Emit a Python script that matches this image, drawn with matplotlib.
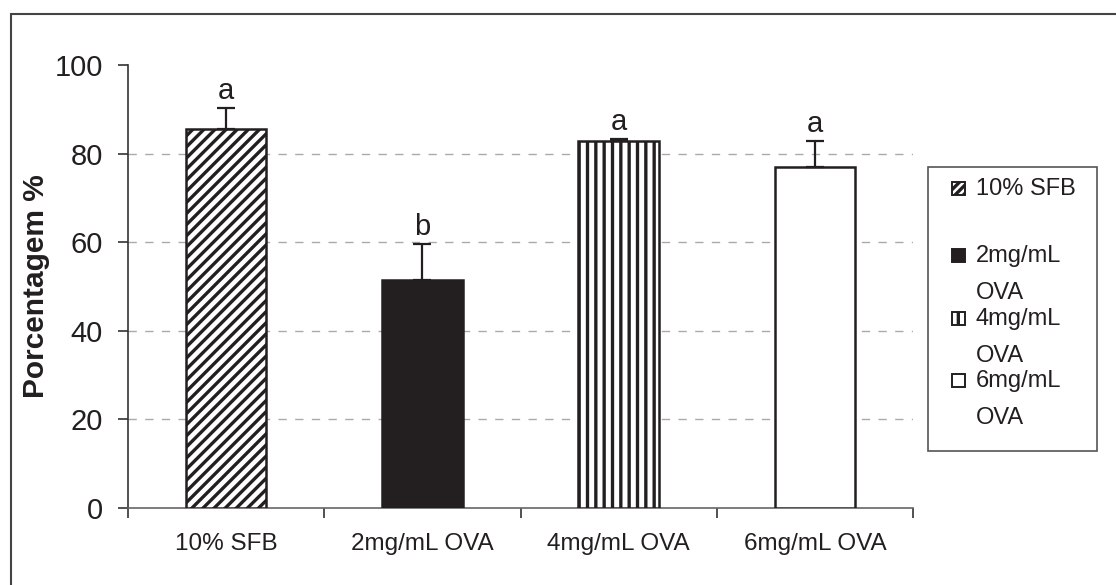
import matplotlib
matplotlib.use('Agg')
import matplotlib.pyplot as plt
from matplotlib.patches import Rectangle

plt.rcParams['font.family'] = ['Liberation Sans', 'DejaVu Sans']
plt.rcParams['hatch.linewidth'] = 2.4

categories = ['10% SFB', '2mg/mL OVA', '4mg/mL OVA', '6mg/mL OVA']
legend_labels = ['10% SFB', '2mg/mL\nOVA', '4mg/mL\nOVA', '6mg/mL\nOVA']
values = [85.5, 51.4, 82.8, 77.0]
errors = [4.8, 8.3, 0.5, 5.8]
letters = ['a', 'b', 'a', 'a']
yticks = [0, 20, 40, 60, 80, 100]

dark = '#231f20'
fills = ['white', dark, 'white', 'white']
hatches = ['///', '', '||', '']
legend_hatches = ['////', None, '|', None]

W, H = 1116, 585
fig = plt.figure(figsize=(W/100, H/100), dpi=100)
ax = fig.add_axes([128/W, 1-508/H, 785/W, 443/H])

x = range(len(categories))
ax.bar(x, values, width=0.41, color=fills, edgecolor=dark,
       linewidth=1.8, hatch=hatches, zorder=3)
ax.errorbar(x, values, yerr=[[0]*4, errors], fmt='none', ecolor=dark,
            elinewidth=1.6, capsize=6.5, capthick=1.6, zorder=4)
for i in x:
    ax.annotate(letters[i], (i, values[i] + errors[i]), xytext=(0, 2),
                textcoords='offset points', ha='center', va='bottom',
                fontsize=21, color=dark)

ax.set_xlim(-0.5, 3.5)
ax.set_ylim(0, 100)
ax.set_yticks(yticks)
ax.set_xticks(x)
ax.set_xticklabels(categories, fontsize=17.5, color=dark)
ax.set_xticks([-0.5, 0.5, 1.5, 2.5, 3.5], minor=True)
ax.tick_params(axis='x', which='major', length=0, pad=18)
ax.tick_params(axis='x', which='minor', length=7, width=1.2, color='#333')
ax.tick_params(axis='y', length=7, width=1.2, pad=11, labelsize=21,
               labelcolor=dark, color='#333')
for t in yticks[1:-1]:
    ax.axhline(t, color='#aaaaaa', linestyle=(0, (6, 6)), linewidth=1, zorder=1)
for s in ['top', 'right']:
    ax.spines[s].set_visible(False)
ax.spines['left'].set_color('#333')
ax.spines['bottom'].set_color('#666')
ax.spines['left'].set_linewidth(1.2)
ax.spines['bottom'].set_linewidth(1.2)
ax.set_ylabel('Porcentagem %', fontsize=21.5, fontweight='bold', color=dark,
              labelpad=3)

# legend box drawn by hand, Excel style (swatch next to the first line)
fig.patches.append(Rectangle((928/W, 1-451/H), 169/W, 284/H,
                             transform=fig.transFigure, fill=False,
                             edgecolor='#555', linewidth=1.2))
baselines = [195, 262, 325, 387]
for i, lab in enumerate(legend_labels):
    b = baselines[i]
    fig.patches.append(Rectangle((952/W, 1-b/H), 13/W, 13/H,
                                 transform=fig.transFigure, facecolor=fills[i],
                                 edgecolor=dark, hatch=legend_hatches[i],
                                 linewidth=1.4))
    for k, line in enumerate(lab.split('\n')):
        fig.text(976/W, 1-(b + 37*k)/H, line, fontsize=17, color=dark,
                 ha='left', va='baseline')

fig.patches.append(Rectangle((11/W, -0.1), 1.2, 1.1 - 14/H,
                             transform=fig.transFigure, fill=False,
                             edgecolor='#444', linewidth=1.5))

fig.savefig('out.png', dpi=100)
